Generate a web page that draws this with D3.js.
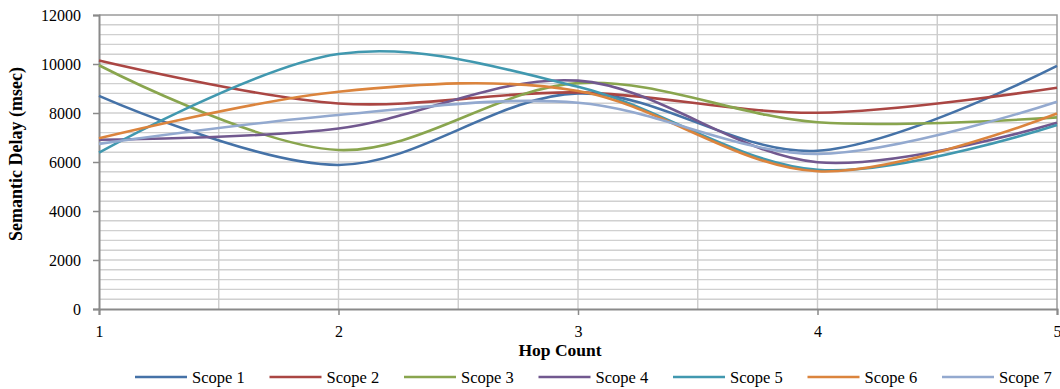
<!DOCTYPE html>
<html>
<head>
<meta charset="utf-8">
<script src="https://cdn.jsdelivr.net/npm/d3@7"></script>
<style>
  html, body { margin: 0; padding: 0; background: #fff; }
  svg { display: block; }
  svg text { font-family: "Liberation Serif", "DejaVu Serif", serif; fill: #000; }
</style>
</head>
<body>
<svg id="chart" width="1060" height="389"></svg>
<script>
// Hop counts on the x axis
const hops = [1, 2, 3, 4, 5];

// Semantic delay (msec) per scope, one value per hop count
const scope1 = [8700, 5880, 8800, 6460, 9920];
const scope2 = [10140, 8390, 8840, 8010, 9030];
const scope3 = [9950, 6490, 9220, 7620, 7820];
const scope4 = [6910, 7370, 9320, 5990, 7600];
const scope5 = [6380, 10410, 9070, 5680, 7510];
const scope6 = [6970, 8870, 8900, 5620, 7980];
const scope7 = [6740, 7920, 8420, 6330, 8460];

const seriesNames = ["Scope 1", "Scope 2", "Scope 3", "Scope 4", "Scope 5", "Scope 6", "Scope 7"];
const seriesColors = ["#4572A7", "#AA4643", "#89A54E", "#71588F", "#4198AF", "#DB843D", "#93A9CF"];
const yTicks = [0, 2000, 4000, 6000, 8000, 10000, 12000];

const series = [scope1, scope2, scope3, scope4, scope5, scope6, scope7]
  .map((vals, i) => ({ name: seriesNames[i], color: seriesColors[i], values: vals }));

const svg = d3.select("#chart");
const plotLeft = 99, plotRight = 1057, plotTop = 15, plotBottom = 309;
const serif = "Liberation Serif, DejaVu Serif, serif";

const x = d3.scaleLinear().domain([1, 5]).range([plotLeft, plotRight]);
const y = d3.scaleLinear().domain([0, 12000]).range([plotBottom, plotTop]);

// Minor horizontal gridlines every 400 msec
const grid = svg.append("g");
grid.selectAll("line.h")
  .data(d3.range(400, 12000, 400))
  .join("line")
  .attr("class", "h")
  .attr("x1", plotLeft).attr("x2", plotRight)
  .attr("y1", d => y(d)).attr("y2", d => y(d))
  .attr("stroke", "#d0d0d0").attr("stroke-width", 1.4);

// Vertical gridlines every half hop
grid.selectAll("line.v")
  .data(d3.range(1.5, 5, 0.5))
  .join("line")
  .attr("class", "v")
  .attr("y1", plotTop).attr("y2", plotBottom)
  .attr("x1", d => x(d)).attr("x2", d => x(d))
  .attr("stroke", "#cccccc").attr("stroke-width", 1.4);

// Plot frame (top and right edges)
svg.append("path")
  .attr("d", `M${plotLeft},${y(12000)}H${plotRight}V${plotBottom}`)
  .attr("fill", "none").attr("stroke", "#9a9a9a").attr("stroke-width", 1.5);

// Y axis
const yAxis = svg.append("g")
  .attr("transform", `translate(${plotLeft},0)`)
  .attr("font-family", serif)
  .call(d3.axisLeft(y).tickValues(yTicks).tickSize(6).tickPadding(12).tickFormat(d3.format("d")));
yAxis.select(".domain").attr("stroke", "#8a8a8a").attr("stroke-width", 2);
yAxis.selectAll(".tick line").attr("stroke", "#8a8a8a").attr("stroke-width", 1.5);
yAxis.selectAll(".tick text").attr("font-size", 16).attr("fill", "#000")
  .attr("font-family", serif);

// X axis
const xAxis = svg.append("g")
  .attr("transform", `translate(0,${plotBottom})`)
  .attr("font-family", serif)
  .call(d3.axisBottom(x).tickValues(hops).tickSize(6).tickPadding(11).tickFormat(d3.format("d")));
xAxis.select(".domain").attr("stroke", "#8a8a8a").attr("stroke-width", 2);
xAxis.selectAll(".tick line").attr("stroke", "#8a8a8a").attr("stroke-width", 1.5);
xAxis.selectAll(".tick text").attr("font-size", 16).attr("fill", "#000")
  .attr("font-family", serif);

// Axis titles
svg.append("text")
  .attr("x", 560).attr("y", 356)
  .attr("text-anchor", "middle")
  .attr("font-family", serif)
  .attr("font-size", 17.5).attr("font-weight", "bold")
  .text("Hop Count");

svg.append("text")
  .attr("transform", `translate(22,${(plotTop + plotBottom) / 2 - 8}) rotate(-90)`)
  .attr("text-anchor", "middle")
  .attr("font-family", serif)
  .attr("font-size", 18).attr("font-weight", "bold")
  .text("Semantic Delay (msec)");

// Smoothed series lines
const line = d3.line()
  .x((d, i) => x(hops[i]))
  .y(d => y(d))
  .curve(d3.curveCatmullRom.alpha(0));

svg.append("g").selectAll("path")
  .data(series)
  .join("path")
  .attr("d", d => line(d.values))
  .attr("fill", "none")
  .attr("stroke", d => d.color)
  .attr("stroke-width", 2.6)
  .attr("stroke-linejoin", "round");

// Legend
const legend = svg.append("g").attr("transform", "translate(135,377)");
const item = legend.selectAll("g")
  .data(series)
  .join("g")
  .attr("transform", (d, i) => `translate(${i * 134.5},0)`);
item.append("line")
  .attr("x1", 0).attr("x2", 52)
  .attr("stroke", d => d.color).attr("stroke-width", 2.6);
item.append("text")
  .attr("x", 57).attr("y", 5.5)
  .attr("font-family", serif)
  .attr("font-size", 16.5)
  .text(d => d.name);
</script>
</body>
</html>
